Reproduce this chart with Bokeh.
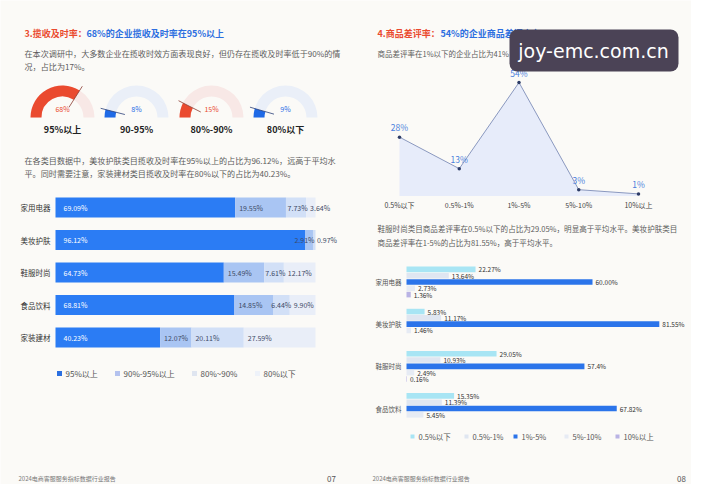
import math
from bokeh.plotting import figure
from bokeh.models import Range1d, Label, BoxAnnotation
from bokeh.core.properties import value
from bokeh.embed import file_html
from bokeh.resources import INLINE

# ---------------- data ----------------
gauge_names = ["95%以上", "90-95%", "80%-90%", "80%以下"]
gauge_values = [68, 8, 15, 9]

left_cats = ["家用电器", "美妆护肤", "鞋服时尚", "食品饮料", "家装建材"]
l_95up = [69.09, 96.12, 64.73, 68.81, 40.23]
l_90_95 = [19.55, 2.91, 15.49, 14.85, 12.07]
l_80_90 = [7.73, 0.97, 7.61, 6.44, 20.11]
l_80down = [3.64, 0.0, 12.17, 9.90, 27.59]
left_legend = ["95%以上", "90%-95%以上", "80%~90%", "80%以下"]

review_bins = ["0.5%以下", "0.5%-1%", "1%-5%", "5%-10%", "10%以上"]
review_share = [28, 13, 54, 3, 1]

right_cats = ["家用电器", "美妆护肤", "鞋服时尚", "食品饮料"]
r_lt05 = ["22.27", "5.83", "29.05", "15.35"]
r_05_1 = ["13.64", "11.17", "10.93", "11.39"]
r_1_5 = ["60.00", "81.55", "57.4", "67.82"]
r_5_10 = ["2.73", "1.46", "2.49", "5.45"]
r_gt10 = ["1.36", "0", "0.16", "0"]
right_legend = ["0.5%以下", "0.5%-1%", "1%-5%", "5%-10%", "10%以上"]

# ---------------- styling ----------------
FONT = "Noto Sans CJK SC"
BG = "#fbfaf7"
RED = "#ea4a2f"
BLUE = "#2e6fe0"
GRAY = "#5c5c5c"
W, H = 691, 484
X0, X1 = 0, W
Y0, Y1 = 0, H


def xr(d0, p0, d1, p1):
    k = (d1 - d0) / (p1 - p0)
    return Range1d(start=d0 + (X0 - p0) * k, end=d0 + (X1 - p0) * k)


def yr(d0, p0, d1, p1):
    k = (d1 - d0) / (p1 - p0)
    return Range1d(start=d0 + (Y1 - p0) * k, end=d0 + (Y0 - p0) * k)


p = figure(width=W, height=H, output_backend="svg", toolbar_location=None,
           x_range=Range1d(X0, X1), y_range=Range1d(-Y1, -Y0),
           x_axis_type=None, y_axis_type=None, min_border=0,
           background_fill_color=BG, border_fill_color=BG, outline_line_color=None)
p.grid.visible = False

p.extra_x_ranges = {
    "lbx": xr(0, 55, 100, 315),
    "rlx": xr(0, 399, 4, 638),
    "rbx": xr(0, 406, 60, 592),
}
p.extra_y_ranges = {
    "lby": yr(0, 207, 4, 337),
    "rly": yr(0, 195.5, 54, 82),
    "rby": yr(0, 281.5, 3, 408),
}


def label(x, y, s, size=8, color=GRAY, bold=False, align="left", baseline="middle", **kw):
    p.add_layout(Label(x=x, y=-y, text=s, text_font=FONT, text_font_size=f"{size}px",
                       text_color=color, text_font_style="bold" if bold else "normal",
                       text_align=align, text_baseline=baseline, **kw))


# ================= LEFT PAGE =================
label(24, 33, "3.揽收及时率：", 9, RED, True)
label(86, 33, "68%的企业揽收及时率在95%以上", 9, BLUE, True)
label(24, 53, "在本次调研中，大多数企业在揽收时效方面表现良好，但仍存在揽收及时率低于90%的情", 8.1, GRAY)
label(24, 66, "况，占比为17%。", 8.1, GRAY)

# gauges
g_cx = [62, 136, 211, 285]
g_cy = -117
g_strong = [RED, "#1f6ae6", RED, "#1f6ae6"]
g_track = ["#f8e8e6", "#eaeff8", "#f8e8e6", "#eaeff8"]
g_needle = ["#8a3a30", "#2a3f78", "#8a3a30", "#2a3f78"]
for cx, v, name, cs, ct, cn in zip(g_cx, gauge_values, gauge_names, g_strong, g_track, g_needle):
    p.annular_wedge(x=cx, y=g_cy, inner_radius=21, outer_radius=32, start_angle=0,
                    end_angle=math.pi, color=ct, line_color=None)
    a = math.pi - v / 100 * math.pi
    p.annular_wedge(x=cx, y=g_cy, inner_radius=21, outer_radius=32, start_angle=a,
                    end_angle=math.pi, color=cs, line_color=None)
    p.segment(x0=cx + 12 * math.cos(a), y0=g_cy + 12 * math.sin(a),
              x1=cx + 37 * math.cos(a), y1=g_cy + 37 * math.sin(a),
              line_color=cn, line_width=0.8)
    label(cx, 108, f"{v}%", 7, cs, False, "center")
    label(cx, 129, name, 9, "#222222", True, "center")

label(24, 160, "在各类目数据中，美妆护肤类目揽收及时率在95%以上的占比为96.12%，远高于平均水", 8.1, GRAY)
label(24, 173, "平。同时需要注意，家装建材类目揽收及时率在80%以下的占比为40.23%。", 8.1, GRAY)

# stacked bars
l_series = [l_95up, l_90_95, l_80_90, l_80down]
l_colors = ["#2b7cf4", "#a9c5f3", "#d2e0f7", "#e9eef8"]
idx = list(range(len(left_cats)))
cum = [0.0] * len(left_cats)
seg_starts = []
for ser, col in zip(l_series, l_colors):
    right = [c + v for c, v in zip(cum, ser)]
    p.hbar(y=idx, left=cum, right=right, height=0.615, color=col, line_color=None,
           x_range_name="lbx", y_range_name="lby")
    seg_starts.append(list(cum))
    cum = right

PXU = 2.6  # px per percent (left bars) used for label collision only
for i in idx:
    labs = []
    for k, ser in enumerate(l_series):
        if ser[i] <= 0:
            continue
        s = f"{ser[i]:.2f}%"
        x = seg_starts[k][i] + (8 if k == 0 else 4) / PXU
        labs.append([x, s, k])
    lim = (336 - 55) / PXU
    for item in reversed(labs[1:]):
        w = len(item[1]) * 3.9 / PXU
        if item[0] + w > lim:
            item[0] = lim - w
        lim = item[0] - 3 / PXU
    for x, s, k in labs:
        p.text(x=[x], y=[i], text=[s], text_font=value(FONT), text_font_size=value("7px"),
               text_color="white" if k == 0 else "#3d4a66", text_baseline="middle",
               x_range_name="lbx", y_range_name="lby")
p.text(x=[50] * len(left_cats), y=idx, text=left_cats, text_font=value(FONT),
       text_font_size=value("7.5px"), text_color="#333333", text_align="right",
       text_baseline="middle", y_range_name="lby")

# left legend
ll_x = [59, 117, 194, 257]
ll_marker = ["#2b6fe0", "#b4c2ee", "#dfe5f0", "#eef2f9"]
p.scatter(x=ll_x, y=[-373] * 4, marker="square", size=5, color=ll_marker, line_color=None)
p.text(x=[x + 6 for x in ll_x], y=[-373] * 4, text=left_legend, text_font=value(FONT),
       text_font_size=value("8px"), text_color="#555555", text_baseline="middle")

label(18, 478, "2024电商客服服务指标数据行业报告", 6, "#777777")
label(331, 478, "07", 8, "#555555", False, "center")

# ================= RIGHT PAGE =================
label(377, 33, "4.商品差评率：", 9, RED, True)
label(440, 33, "54%的企业商品差评率在1-5%", 9, BLUE, True)
label(377, 53, "商品差评率在1%以下的企业占比为41%", 7.5, GRAY)

ridx = list(range(len(review_bins)))
p.varea(x=ridx, y1=[0] * len(ridx), y2=review_share, fill_color="#e4eafa", fill_alpha=0.9,
        x_range_name="rlx", y_range_name="rly")
p.line(x=ridx, y=review_share, line_color="#8a98bf", line_width=1,
       x_range_name="rlx", y_range_name="rly")
p.scatter(x=ridx, y=review_share, size=3.5, color="#2c3b66", line_color=None,
          x_range_name="rlx", y_range_name="rly")
p.text(x=ridx, y=review_share, text=[f"{v}%" for v in review_share], text_font=value(FONT),
       text_font_size=value("8.5px"), text_color="#4a7edc", text_align="center",
       text_baseline="bottom", y_offset=-4, x_range_name="rlx", y_range_name="rly")
p.text(x=ridx, y=[-204] * len(ridx), text=review_bins, text_font=value(FONT),
       text_font_size=value("7px"), text_color="#444444", text_align="center",
       text_baseline="middle", x_range_name="rlx")

label(377, 228, "鞋服时尚类目商品差评率在0.5%以下的占比为29.05%，明显高于平均水平。美妆护肤类目", 7.55, GRAY)
label(377, 242, "商品差评率在1-5%的占比为81.55%，高于平均水平。", 7.55, GRAY)

# grouped bars
r_series = [r_lt05, r_05_1, r_1_5, r_5_10, r_gt10]
r_colors = ["#a8e5f4", "#dfe6f1", "#2b74ea", "#e6ebf4", "#b9b3e4"]
STEP = 6.3 / 42.2
for s_i, (ser, col) in enumerate(zip(r_series, r_colors)):
    vals = [float(v) for v in ser]
    ys = [g + (s_i - 2) * STEP for g in range(len(right_cats))]
    p.hbar(y=ys, left=0, right=vals, height=5.6 / 42.2, color=col, line_color=None,
           x_range_name="rbx", y_range_name="rby")
    keep = [k for k, v in enumerate(vals) if v > 0]
    p.text(x=[vals[k] for k in keep], y=[ys[k] for k in keep], text=[ser[k] + "%" for k in keep],
           text_font=value(FONT), text_font_size=value("6.5px"), text_color="#333333",
           text_baseline="middle", x_offset=3, x_range_name="rbx", y_range_name="rby")
p.text(x=[401] * len(right_cats), y=list(range(len(right_cats))), text=right_cats,
       text_font=value(FONT), text_font_size=value("6.5px"), text_color="#555555",
       text_align="right", text_baseline="middle", y_range_name="rby")

rl_x = [412, 466, 515, 566, 617]
p.scatter(x=rl_x, y=[-436] * 5, marker="square", size=4, color=r_colors, line_color=None)
p.text(x=[x + 6 for x in rl_x], y=[-436] * 5, text=right_legend, text_font=value(FONT),
       text_font_size=value("7.5px"), text_color="#555555", text_baseline="middle")

label(372, 478, "2024电商客服服务指标数据行业报告", 6, "#777777")
label(681, 478, "08", 8, "#555555", False, "center")

# watermark
p.add_layout(BoxAnnotation(left=509, right=678, top=-29, bottom=-71, fill_color="#4b4356",
                           fill_alpha=1, line_alpha=0, border_radius=8))
p.add_layout(Label(x=593, y=-50, text="joy-emc.com.cn", text_font="DejaVu Sans",
                   text_font_size="19px", text_color="white", text_align="center",
                   text_baseline="middle"))

open("out.html", "w").write(file_html(p, INLINE))
